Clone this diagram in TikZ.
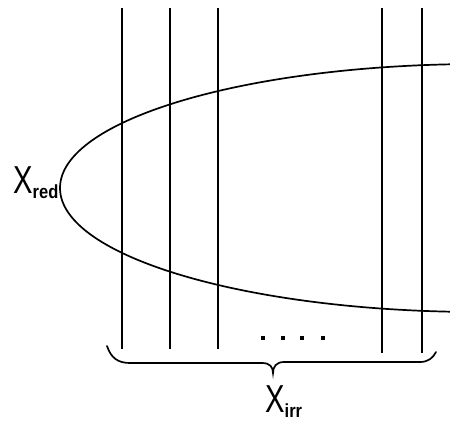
\documentclass[tikz,border=0pt]{standalone}
\usepackage{fontspec}
\newfontfamily\labfont{Liberation Sans}
\begin{document}
\begin{tikzpicture}[x=1pt,y=-1pt,
  curve/.style={line width=1.7pt, line cap=round},
  vline/.style={line width=1.8pt},
  lab/.style={inner sep=0pt, anchor=base west, font=\labfont},
  dotmark/.style={fill=black, minimum size=3.2pt, inner sep=0pt, shape=rectangle}]
\useasboundingbox (0,0) rectangle (450,421);
% vertical lines
\foreach \n/\xx/\yb in {a/122/349, b/170/349, c/218/349, d/382/353, e/422/353} {
  \coordinate (\n top) at (\xx,8);
  \coordinate (\n bot) at (\xx,\yb);
  \draw[vline] (\n top) -- (\n bot);
}
% half ellipse
\begin{scope}
  \clip (0,0) rectangle (450,421);
  \draw[curve] (480,188) ellipse [x radius=420, y radius=124];
\end{scope}
% dots
\foreach \i/\xx in {1/263, 2/283, 3/302, 4/323}
  \node[dotmark] (dot\i) at (\xx,338) {};
% brace
\coordinate (bl) at (107,346);
\coordinate (br) at (436,352);
\coordinate (btip) at (273,373);
\draw[curve] (bl) .. controls (111,358) and (118,363) .. (130,363) -- (262,363)
  .. controls (270,363) and (273,367) .. (btip)
  .. controls (273,367) and (276,362) .. (284,362) -- (420,362)
  .. controls (428,362) and (433,358) .. (br);
% labels
\node[lab] (xred) at (13,193) {\fontsize{39}{39}\selectfont\scalebox{0.75}[1]{X}\raisebox{-5pt}{\fontsize{19}{19}\selectfont\scalebox{0.87}[1]{\bfseries red}}};
\node[lab] (xirr) at (265,412) {\fontsize{39}{39}\selectfont\scalebox{0.75}[1]{X}\raisebox{-5pt}{\fontsize{19}{19}\selectfont\scalebox{0.87}[1]{\bfseries irr}}};
\end{tikzpicture}
\end{document}
